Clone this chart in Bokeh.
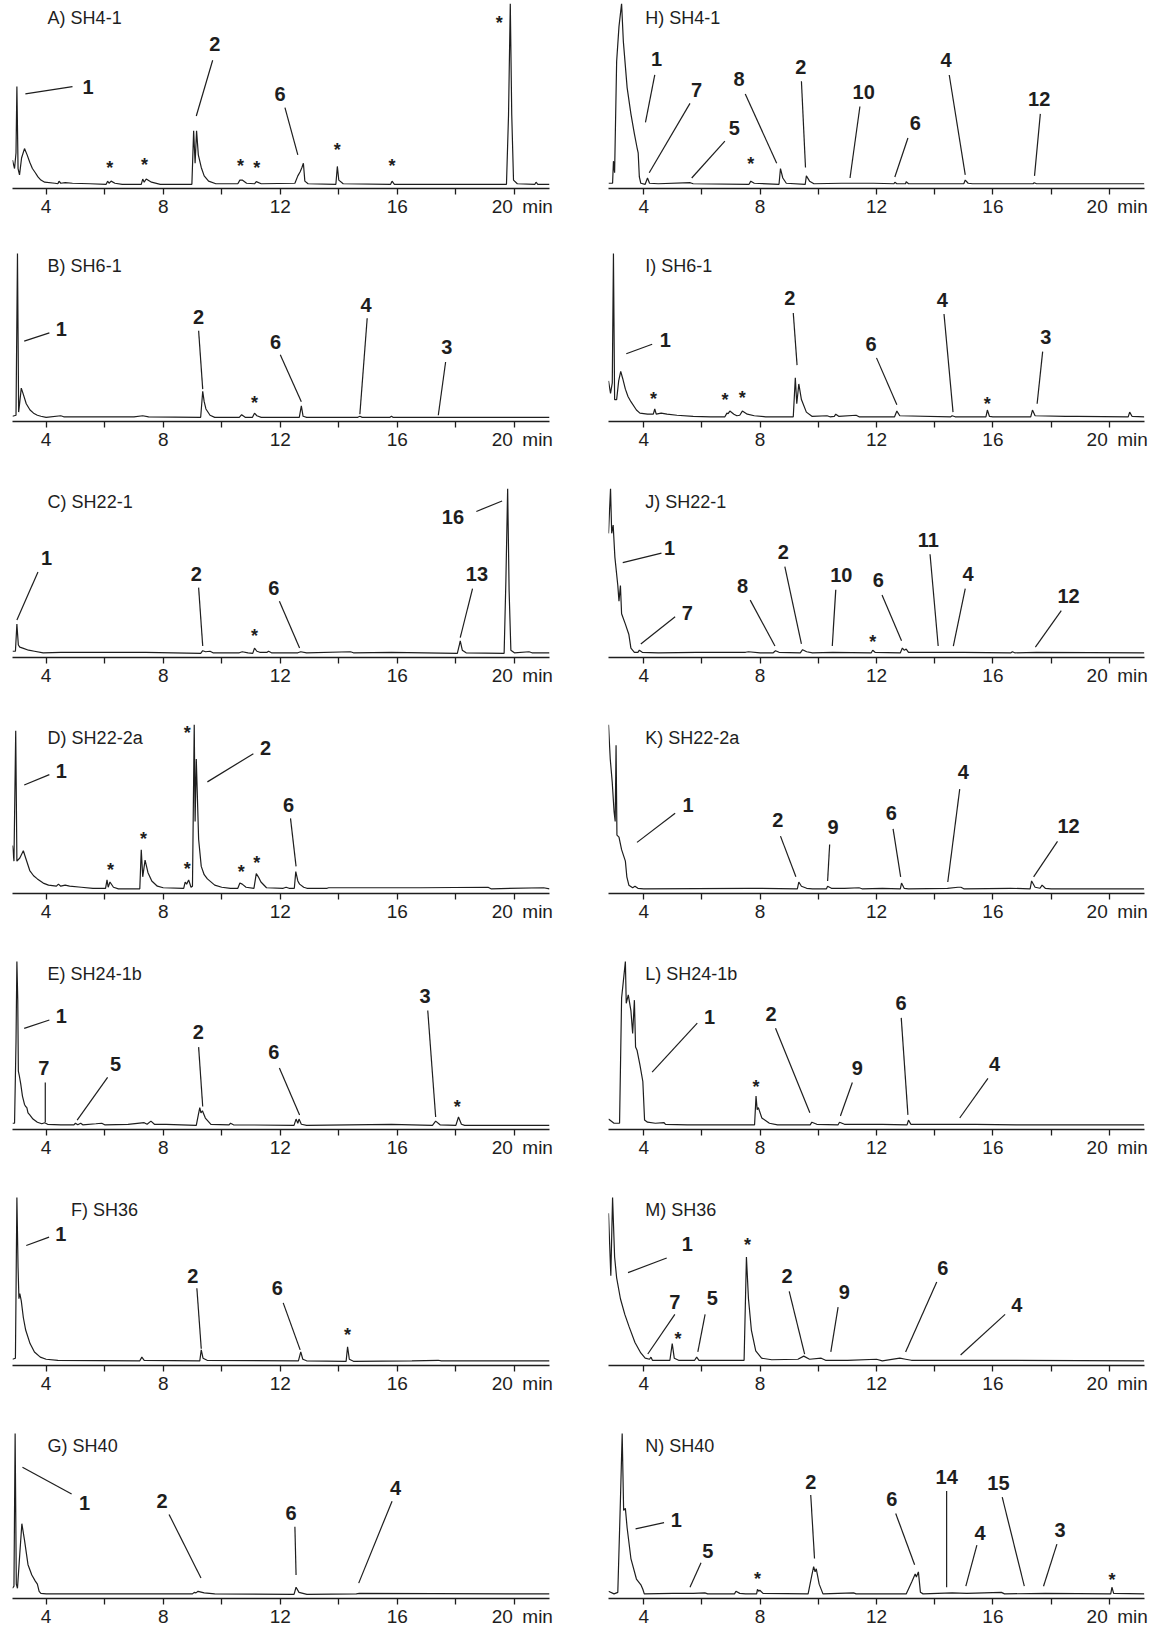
from bokeh.plotting import figure
from bokeh.models import Range1d, FixedTicker, ColumnDataSource
from bokeh.layouts import column, row
from bokeh.embed import file_html
from bokeh.resources import INLINE
from bokeh.core.properties import value

# ---------------- data (time in min, signal height) ----------------
TICKS = [4, 6, 8, 10, 12, 14, 16, 18, 20]
TICK_TEXT = {4: "4", 6: "", 8: "8", 10: "", 12: "12", 14: "", 16: "16", 18: "",
             20: "\u2007\u00a020\u2002min"}

A_name = "A) SH4-1"
A_trace = [(2.85,23),(2.92,15),(2.97,30),(3.00,93),(3.04,15),(3.09,9),(3.16,25),(3.26,34),(3.35,28),(3.44,21),(3.53,15),(3.63,11),(3.72,7),(3.82,4),(3.95,2),(4.3,1),(4.4,0.5),(4.44,3),(4.5,1),(4.65,1.5),(4.9,1),(5.5,0.5),(6.05,0),(6.1,3),(6.15,1),(6.22,3),(6.35,1),(6.6,0),(7.25,0),(7.3,5),(7.35,2),(7.42,5),(7.6,2),(7.9,0),(8.98,0),(9.04,51),(9.09,20),(9.14,51),(9.2,28),(9.3,16),(9.4,8),(9.55,3),(9.8,0.5),(10.55,0.5),(10.62,4),(10.7,4),(10.85,1),(11.12,0.5),(11.18,2.5),(11.35,0.5),(12.5,1),(12.6,8),(12.68,12),(12.74,16),(12.79,20),(12.84,3),(12.95,0.5),(13.9,0),(13.95,17),(14.0,4),(14.15,0.5),(15.77,0),(15.82,3),(15.9,0),(19.73,0),(19.8,66),(19.86,172),(19.91,66),(19.97,4),(20.1,0.5),(20.7,0),(20.74,2),(20.8,0),(21.2,0)]
A_callouts = [("1",5.43,86,3.29,79,4.9,86),("2",9.76,126,9.69,111,9.13,58),("6",11.99,79,12.16,66,12.6,28)]
A_stars = [(6.17,12),(7.36,15),(10.64,14),(11.2,12),(13.95,29),(15.82,14),(19.48,150)]

B_name = "B) SH6-1"
B_trace = [(2.85,1),(2.97,2),(3.02,157),(3.06,5),(3.1,15),(3.15,28),(3.22,22),(3.32,13),(3.45,7),(3.57,4),(3.7,2),(3.82,1),(4.0,0),(4.5,1.5),(4.6,0.5),(7.0,0.5),(7.3,1.5),(7.5,0.5),(9.28,0),(9.35,25),(9.4,15),(9.46,8),(9.6,2),(9.76,0),(10.6,0),(10.68,2.5),(10.8,0),(11.05,0),(11.12,4),(11.2,1.5),(11.35,0),(12.65,0),(12.72,11),(12.78,1),(12.9,0),(14.65,0),(14.72,1),(14.8,0),(15.75,0),(15.8,1),(15.85,0),(21.2,0)]
B_callouts = [("1",4.52,82,3.25,70,4.11,78),("2",9.21,93,9.21,80,9.35,27),("6",11.84,69,12.0,57,12.72,15),("4",14.93,105,14.97,92,14.72,3),("3",17.69,64,17.65,50,17.4,2)]
B_stars = [(11.12,15)]

C_name = "C) SH22-1"
C_trace = [(2.85,2),(2.95,2),(3.0,28),(3.05,8),(3.1,6),(3.2,5),(3.4,3),(3.6,2),(3.9,0.5),(4.5,1),(7.4,1),(9.28,0),(9.35,2.5),(9.45,1.5),(9.6,2),(9.7,0.5),(10.6,0.5),(10.7,1.5),(10.9,0.5),(11.06,0),(11.12,5),(11.2,2),(11.3,1),(11.55,1),(11.6,2),(11.7,0.5),(12.6,0.5),(12.7,1.5),(12.9,0.5),(14.4,1.5),(14.5,0.5),(15.8,1),(18.05,0),(18.12,8),(18.15,12),(18.22,3),(18.35,0.5),(19.65,0),(19.71,70),(19.77,158),(19.82,60),(19.88,3),(20.0,0.5),(20.5,1.5),(20.6,0.5),(21.2,0.5)]
C_callouts = [("1",4.01,88,3.72,75,3.0,32),("2",9.13,73,9.21,60,9.35,7),("6",11.78,60,11.97,47,12.66,5),("13",18.72,73,18.57,59,18.15,15),("16",17.9,128,18.7,133,19.58,143)]
C_stars = [(11.12,17)]

D_name = "D) SH22-2a"
D_trace = [(2.85,42),(2.9,27),(2.96,152),(3.0,27),(3.1,30),(3.22,37),(3.3,30),(3.44,18),(3.57,13),(3.7,10),(3.9,6),(4.08,4),(4.35,3),(4.42,5),(4.5,3),(4.65,4),(4.8,3),(5.2,2),(5.6,1),(6.03,1),(6.08,9),(6.12,2),(6.18,7),(6.3,2),(6.47,0.5),(7.2,0.5),(7.25,38),(7.3,12),(7.38,28),(7.48,16),(7.61,8),(7.8,3),(8.0,1.5),(8.7,1),(8.75,7),(8.8,5),(8.87,9),(8.95,2),(9.0,3),(9.06,158),(9.09,65),(9.13,125),(9.21,48),(9.3,22),(9.4,14),(9.51,10),(9.76,4),(10.0,2),(10.3,1),(10.55,1),(10.62,6),(10.7,5),(10.83,2),(11.1,1),(11.18,15),(11.25,12),(11.34,7),(11.53,1.5),(12.1,1),(12.2,2),(12.3,1),(12.48,1),(12.53,17),(12.6,8),(12.66,5),(12.8,2),(12.91,1),(13.6,1),(13.65,1.5),(14.2,1.5),(15.8,1.5),(16.8,1.5),(19.1,2),(19.2,0.5),(21.0,1.5),(21.2,0.5)]
D_callouts = [("1",4.52,110,3.25,97,4.11,107),("2",11.5,132,11.08,127,9.51,100),("6",12.28,78,12.35,65,12.54,22)]
D_stars = [(6.2,19),(7.33,49),(8.82,20),(8.82,151),(10.67,17),(11.2,26)]

E_name = "E) SH24-1b"
E_trace = [(2.85,2),(2.92,2),(2.97,80),(3.0,157),(3.03,120),(3.05,52),(3.08,48),(3.13,40),(3.19,28),(3.26,20),(3.3,18),(3.34,17),(3.38,12),(3.44,10),(3.55,6),(3.7,3),(3.85,1.5),(3.95,2.5),(4.05,1),(4.5,0.5),(4.95,0.5),(5.0,2),(5.08,0.5),(5.18,2),(5.25,0.5),(5.7,1.5),(5.9,2),(6.0,0.5),(6.8,1),(7.35,2.5),(7.45,1),(7.58,4),(7.7,1),(8.1,1),(9.13,0),(9.2,10),(9.25,17),(9.29,12),(9.34,14),(9.44,7),(9.63,1),(10.25,0.5),(10.3,2),(10.4,0.5),(12.47,0),(12.54,6),(12.6,2),(12.64,6),(12.72,1),(12.9,0),(15.8,1),(17.2,0),(17.31,4),(17.46,0.5),(18.0,0),(18.09,8),(18.19,1),(18.3,0),(21.2,0)]
E_callouts = [("1",4.52,102,3.25,90,4.11,98),("7",3.92,52,3.97,38,3.97,3),("5",6.37,56,6.1,43,5.06,5),("2",9.2,86,9.21,72,9.35,18),("6",11.78,67,11.97,52,12.66,10),("3",16.95,121,17.04,107,17.31,8)]
E_stars = [(18.05,18)]

F_name = "F) SH36"
F_trace = [(2.85,2),(2.95,3),(3.0,157),(3.04,90),(3.07,60),(3.1,65),(3.15,58),(3.22,42),(3.3,30),(3.45,17),(3.6,9),(3.8,4),(4.0,2),(4.4,1),(7.2,0.5),(7.27,4),(7.35,1),(9.25,0.5),(9.3,11),(9.36,3),(9.5,1),(12.62,0.5),(12.7,9),(12.77,2),(12.9,0.5),(14.25,0),(14.3,14),(14.36,2),(14.5,0),(16.5,0.5),(17.4,1),(17.5,0.5),(21.2,0.5)]
F_callouts = [("1",4.5,119,3.32,108,4.1,116),("2",9.01,79,9.15,67,9.3,12),("6",11.9,67,12.1,53,12.68,11)]
F_stars = [(14.3,26)]

G_name = "G) SH40"
G_trace = [(2.85,6),(2.9,8),(2.94,157),(2.98,10),(3.02,6),(3.1,40),(3.17,69),(3.26,53),(3.38,29),(3.51,19),(3.63,13),(3.7,10),(3.76,3),(3.82,1),(4.0,0.5),(9.0,0.5),(9.06,2),(9.12,1.5),(9.19,3),(9.4,1.5),(9.76,0.5),(12.47,0),(12.54,7),(12.64,2),(12.91,0),(14.6,0.5),(14.7,1),(21.2,0.5)]
G_callouts = [("1",5.31,89,3.19,124,4.87,98),("2",7.96,91,8.2,78,9.29,16),("6",12.37,79,12.5,66,12.54,19),("4",15.94,104,15.82,91,14.68,11)]
G_stars = []

H_name = "H) SH4-1"
H_trace = [(2.79,1),(2.93,1),(2.96,22),(3.0,11),(3.07,117),(3.15,150),(3.24,172),(3.3,136),(3.43,92),(3.56,67),(3.68,48),(3.77,35),(3.81,30),(3.85,7),(3.9,1),(4.05,0),(4.13,6),(4.2,1),(4.5,0.5),(5.6,1.5),(5.7,0.5),(7.62,0),(7.68,3),(7.8,1),(8.65,0),(8.7,15),(8.78,6),(8.9,1),(9.55,0),(9.59,8),(9.7,3),(9.85,0.5),(10.8,1),(11.7,1),(11.9,1),(12.6,0.5),(12.63,2),(12.7,0.5),(13.0,0.5),(13.02,2.5),(13.1,0.5),(15.0,0.5),(15.05,4),(15.15,1),(15.3,0.5),(17.38,0.5),(17.42,1.5),(17.5,0.5),(21.2,0.5)]
H_callouts = [("1",4.44,112,4.38,97,4.06,52),("7",5.82,83,5.59,70,4.19,11),("5",7.11,47,6.79,34,5.65,6),("8",7.28,93,7.49,79,8.57,20),("2",9.4,105,9.42,91,9.56,16),("10",11.56,81,11.43,67,11.09,6),("6",13.33,51,13.08,37,12.63,7),("4",14.39,111,14.5,97,15.05,9),("12",17.59,74,17.63,60,17.43,8)]
H_stars = [(7.68,16)]

I_name = "I) SH6-1"
I_trace = [(2.79,35),(2.86,23),(2.92,33),(2.96,157),(3.0,17),(3.07,17),(3.14,35),(3.21,44),(3.28,37),(3.37,27),(3.46,20),(3.56,15),(3.75,7),(3.87,4),(4.13,3),(4.33,3),(4.38,8),(4.43,3),(4.6,4),(4.8,3),(5.14,2),(5.7,1),(6.3,0.5),(6.79,0.5),(6.86,4),(6.9,3.5),(6.96,6),(7.1,3),(7.2,1.5),(7.3,2),(7.39,6),(7.56,3),(7.8,1.5),(8.19,0.5),(9.14,0.5),(9.21,38),(9.26,13),(9.33,32),(9.42,17),(9.59,5),(9.78,1),(10.3,1.5),(10.4,0.5),(10.55,1),(10.6,3),(10.7,1),(11.3,2),(11.4,0.5),(12.62,0.5),(12.7,6),(12.8,1.5),(14.55,0.5),(14.6,1.5),(14.7,0.5),(15.76,0.5),(15.81,7),(15.88,1),(16.0,0.5),(17.3,0.5),(17.36,7),(17.45,1.5),(18.5,1),(18.9,1),(20.65,0.5),(20.7,5),(20.78,1),(21.2,0.5)]
I_callouts = [("1",4.74,71,3.4,58,4.29,67),("2",9.02,111,9.14,97,9.27,47),("6",11.81,67,12.0,54,12.7,12),("4",14.26,109,14.32,96,14.63,5),("3",17.82,74,17.71,60,17.52,13)]
I_stars = [(4.34,18),(6.79,17),(7.39,19),(15.81,14)]

J_name = "J) SH22-1"
J_trace = [(2.79,115),(2.86,158),(2.9,115),(2.95,123),(3.01,92),(3.11,65),(3.15,50),(3.2,65),(3.24,38),(3.37,28),(3.49,18),(3.56,5),(3.68,1),(3.8,1),(3.85,3),(3.95,1),(4.5,0.5),(5.8,1),(6.8,1),(7.5,1),(7.6,1.5),(8.0,0.5),(8.45,0.5),(8.53,2.5),(8.65,1),(9.38,0.5),(9.46,3.5),(9.6,1.5),(9.8,0.5),(10.5,1),(11.82,0.5),(11.87,3),(11.95,1),(12.82,0.5),(12.89,5),(12.95,3),(13.02,4),(13.1,1),(14.2,1),(15.0,1),(16.62,0.5),(16.67,1.5),(16.75,0.5),(17.5,1),(21.2,0.5)]
J_callouts = [("1",4.89,98,3.28,84,4.61,93),("7",5.5,36,5.08,32,3.9,9),("8",7.4,62,7.66,48,8.51,7),("2",8.8,94,8.85,80,9.42,9),("10",10.79,72,10.6,58,10.48,7),("6",12.06,67,12.19,53,12.86,12),("11",13.78,106,13.84,92,14.12,7),("4",15.15,73,15.05,59,14.64,7),("12",18.6,52,18.35,38,17.46,6)]
J_stars = [(11.87,12)]

K_name = "K) SH22-2a"
K_trace = [(2.79,158),(2.85,125),(2.92,102),(2.98,75),(3.02,65),(3.05,138),(3.08,52),(3.15,50),(3.24,38),(3.37,27),(3.42,12),(3.49,4),(3.62,1.5),(3.7,3),(3.8,1),(4.0,0.5),(7.6,1),(9.28,0.5),(9.33,7),(9.42,3),(9.6,1),(9.8,0.5),(10.28,0.5),(10.32,3),(10.45,1),(10.9,1),(11.4,1.5),(11.5,0.5),(12.2,1),(12.82,0.5),(12.86,6),(12.95,1),(13.1,0.5),(14.44,1),(14.8,2),(14.9,2),(15.0,0.5),(16.6,1),(17.28,0.5),(17.33,8),(17.45,2),(17.62,1),(17.69,4),(17.8,1),(18.0,0.5),(21.2,0.5)]
K_callouts = [("1",5.52,78,5.08,70,3.77,42),("2",8.61,63,8.7,48,9.23,12),("9",10.51,57,10.39,40,10.32,8),("6",12.51,70,12.57,55,12.83,12),("4",14.98,109,14.86,93,14.45,7),("12",18.6,58,18.22,43,17.4,12)]
K_stars = []

L_name = "L) SH24-1b"
L_trace = [(2.79,6),(2.98,2),(3.17,2),(3.24,122),(3.3,138),(3.37,157),(3.4,117),(3.47,125),(3.56,110),(3.62,88),(3.68,120),(3.72,75),(3.77,72),(3.87,58),(3.97,42),(4.03,5),(4.13,3),(4.4,2),(4.7,2.5),(4.75,1),(5.5,0.5),(7.81,0.5),(7.86,28),(7.9,15),(7.94,17),(8.06,7),(8.32,2),(8.6,0.5),(9.72,0.5),(9.78,3),(9.95,1),(10.68,0.5),(10.73,3),(10.9,1),(12.2,1),(13.05,0.5),(13.1,5),(13.18,1),(15.4,1),(16.8,0.5),(21.2,0.5)]
L_callouts = [("1",6.26,101,5.84,95,4.29,48),("2",8.38,104,8.53,90,9.71,12),("9",11.34,52,11.17,38,10.76,9),("6",12.84,114,12.85,100,13.08,10),("4",16.06,56,15.83,42,14.86,7)]
L_stars = [(7.86,38)]

M_name = "M) SH36"
M_trace = [(2.79,142),(2.87,82),(2.93,157),(3.0,100),(3.07,80),(3.2,60),(3.35,45),(3.5,33),(3.7,18),(3.9,8),(4.05,3),(4.2,2),(4.25,4),(4.3,1),(4.9,1),(4.98,17),(5.05,3),(5.2,1),(5.75,1),(5.82,4),(5.9,1),(7.45,1),(7.53,100),(7.6,60),(7.7,30),(7.85,10),(8.05,3),(8.4,1.5),(9.3,2),(9.5,5),(9.7,2),(10.1,3),(10.25,1),(11.0,1),(12.0,2),(12.2,0.5),(12.8,3),(13.0,2),(13.2,1),(14.5,1),(16.6,1),(21.2,0.5)]
M_callouts = [("1",5.5,109,3.46,82,4.79,96),("7",5.07,54,5.07,42,4.14,7),("5",6.36,58,6.11,42,5.86,9),("2",8.93,79,9.0,64,9.53,7),("9",10.89,63,10.68,49,10.43,9),("6",14.28,86,14.07,73,13.0,9),("4",16.82,51,16.42,42,14.89,6)]
M_stars = [(5.18,22),(7.57,112)]

N_name = "N) SH40"
N_trace = [(2.79,3),(2.98,0.5),(3.11,2),(3.2,92),(3.26,157),(3.31,82),(3.37,84),(3.43,65),(3.56,35),(3.75,15),(3.91,9),(3.97,5),(4.02,0.5),(5.0,1),(5.7,1),(6.1,1.5),(6.2,0.5),(7.12,0.5),(7.17,3),(7.3,1),(7.5,0.5),(7.88,0.5),(7.91,5),(7.95,3),(7.99,4),(8.1,1),(9.65,0.5),(9.78,19),(9.84,27),(9.89,22),(9.93,25),(10.03,10),(10.16,0.5),(11.21,1.5),(11.3,0.5),(13.02,0.5),(13.21,12),(13.33,20),(13.37,17),(13.44,22),(13.51,2),(13.6,0.5),(14.6,1.5),(15.1,1),(16.29,2),(16.4,0.5),(17.8,1),(20.05,0.5),(20.09,7),(20.15,1),(21.2,0.5)]
N_callouts = [("1",5.12,73,3.72,64,4.7,70),("5",6.2,42,5.97,31,5.59,7),("2",9.74,110,9.74,97,9.87,35),("6",12.53,93,12.66,79,13.31,29),("14",14.41,115,14.41,101,14.41,7),("4",15.56,60,15.45,48,15.07,8),("15",16.19,109,16.32,95,17.08,8),("3",18.31,63,18.2,49,17.74,8)]
N_stars = [(7.91,19),(20.09,18)]

# ---------------- layout ----------------
FONT = "Liberation Sans"
INK = "#1e1e1e"
ROW_H = [224, 233, 236, 236, 236, 236, 230]
ROW_TOP = [3, 28, 31, 31, 31, 31, 31]
ROW_BOT = [36, 36, 36, 36, 36, 36, 33]
ROW_YMAX = [172, 158, 158, 158, 158, 158, 158]
ROW_LIFT = [7, 3, 3, 3, 3, 3, 0]      # extra height of annotation text per row
ROW_NAME_Y = [158, 145, 145, 145, 145, 145, 145]
NAME_X = {"F) SH36": 4.85}


def lifted_ends(c, lift):
    y0, y1 = c[4], c[6]
    if min(y0, y1) > 40:          # free-floating leader: move whole line
        return y0 + lift, y1 + lift
    if y0 >= y1:                  # upper end (near the number) moves
        return y0 + lift, y1
    return y0, y1 + lift


def panel(name, trace, callouts, stars, left, k):
    h, btop, bbot, ymax = ROW_H[k], ROW_TOP[k], ROW_BOT[k], ROW_YMAX[k]
    lift = ROW_LIFT[k]
    w = 580 if left else 582
    bl, fw = (12, 537) if left else (28, 536)
    br = w - bl - fw
    xr = (2.85, 21.2) if left else (2.79, 21.21)
    p = figure(width=w, height=h, output_backend="svg", toolbar_location=None, tools="",
               x_range=Range1d(*xr), y_range=Range1d(-4, ymax), y_axis_location=None,
               min_border_left=bl, min_border_right=br, min_border_top=btop,
               min_border_bottom=bbot)
    p.outline_line_color = None
    p.grid.visible = False
    p.background_fill_color = "white"
    p.border_fill_color = "white"
    ax = p.xaxis[0]
    ax.ticker = FixedTicker(ticks=TICKS, minor_ticks=[])
    ax.major_label_overrides = TICK_TEXT
    ax.axis_line_color = INK
    ax.axis_line_width = 1.3
    ax.major_tick_line_color = INK
    ax.major_tick_line_width = 1.3
    ax.major_tick_in = 0
    ax.major_tick_out = 6
    ax.minor_tick_line_color = None
    ax.major_label_standoff = 1
    ax.major_label_text_font = FONT
    ax.major_label_text_font_size = "19px"
    ax.major_label_text_color = INK

    t = [a for a, b in trace]
    v = [b for a, b in trace]
    p.line(t, v, line_color=INK, line_width=1.2)

    if callouts:
        ends = [lifted_ends(c, lift) for c in callouts]
        src = ColumnDataSource(dict(
            txt=[c[0] for c in callouts], tx=[c[1] for c in callouts],
            ty=[c[2] + lift for c in callouts],
            x0=[c[3] for c in callouts], y0=[e[0] for e in ends],
            x1=[c[5] for c in callouts], y1=[e[1] for e in ends]))
        p.segment("x0", "y0", "x1", "y1", source=src, line_color=INK, line_width=1.2)
        p.text("tx", "ty", text="txt", source=src, text_font=value(FONT), text_font_style="bold",
               text_font_size="20px", text_align="center", text_baseline="middle", text_color=INK)
    if stars:
        p.text([s[0] for s in stars], [s[1] + lift for s in stars], text=["*"] * len(stars),
               text_font=value(FONT), text_font_style="bold", text_font_size="18px",
               text_align="center", text_baseline="middle", y_offset=4, text_color=INK)

    p.text([NAME_X.get(name, 4.05)], [ROW_NAME_Y[k]], text=[name], text_font=value(FONT),
           text_font_size="18px", text_align="left", text_baseline="middle", text_color=INK)
    return p


left_panels = [(A_name, A_trace, A_callouts, A_stars), (B_name, B_trace, B_callouts, B_stars),
               (C_name, C_trace, C_callouts, C_stars), (D_name, D_trace, D_callouts, D_stars),
               (E_name, E_trace, E_callouts, E_stars), (F_name, F_trace, F_callouts, F_stars),
               (G_name, G_trace, G_callouts, G_stars)]
right_panels = [(H_name, H_trace, H_callouts, H_stars), (I_name, I_trace, I_callouts, I_stars),
                (J_name, J_trace, J_callouts, J_stars), (K_name, K_trace, K_callouts, K_stars),
                (L_name, L_trace, L_callouts, L_stars), (M_name, M_trace, M_callouts, M_stars),
                (N_name, N_trace, N_callouts, N_stars)]

rows = []
for k in range(7):
    pl = panel(*left_panels[k], True, k)
    pr = panel(*right_panels[k], False, k)
    rows.append(row(pl, pr, spacing=0))
layout = column(*rows, spacing=0)

open("out.html", "w").write(file_html(layout, INLINE))
